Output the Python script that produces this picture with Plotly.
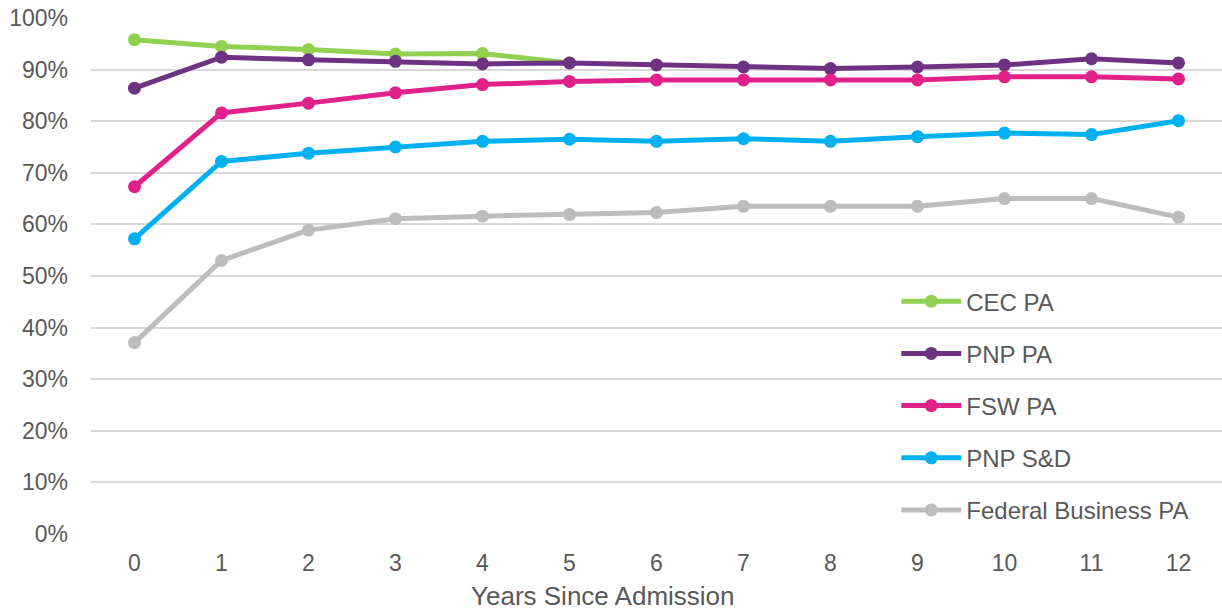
import plotly.graph_objects as go

years = list(range(13))
year_labels = [str(y) for y in years]

cec_pa = [0.958, 0.945, 0.939, 0.930, 0.931, 0.913]
pnp_pa = [0.864, 0.924, 0.919, 0.916, 0.911, 0.913, 0.909, 0.905, 0.902, 0.905, 0.909, 0.921, 0.913]
fsw_pa = [0.673, 0.816, 0.835, 0.855, 0.871, 0.877, 0.880, 0.880, 0.880, 0.880, 0.886, 0.886, 0.882]
pnp_sd = [0.572, 0.722, 0.738, 0.750, 0.761, 0.765, 0.761, 0.766, 0.761, 0.770, 0.777, 0.774, 0.801]
fed_business_pa = [0.371, 0.530, 0.589, 0.611, 0.616, 0.619, 0.623, 0.635, 0.635, 0.635, 0.650, 0.650, 0.614]

series = [
    ("CEC PA", cec_pa, "#92D050"),
    ("PNP PA", pnp_pa, "#6E3282"),
    ("FSW PA", fsw_pa, "#E0218A"),
    ("PNP S&D", pnp_sd, "#00B0F0"),
    ("Federal Business PA", fed_business_pa, "#BDBDBD"),
]

x_title = "Years Since Admission"

text_color = "#595959"
font_family = "Liberation Sans, Arial, sans-serif"

fig = go.Figure()
for name, values, color in series:
    fig.add_trace(go.Scatter(
        x=years[:len(values)],
        y=values,
        name=name,
        legendgroup=name,
        mode="lines+markers",
        line=dict(color=color, width=5),
        marker=dict(color=color, size=13),
    ))

# axis title sits slightly left of the plot-area centre
fig.add_annotation(
    text=x_title,
    xref="paper", yref="paper",
    x=0.4527, y=-0.121,
    xanchor="center", yanchor="middle",
    showarrow=False,
    font=dict(size=26, color=text_color, family=font_family),
)

fig.update_layout(
    width=1222,
    height=614,
    margin=dict(l=91, r=0, t=18, b=80),
    paper_bgcolor="white",
    plot_bgcolor="white",
    font=dict(family=font_family, size=23, color=text_color),
    showlegend=True,
    legend=dict(
        x=0.712, y=0.494, xanchor="left", yanchor="top",
        bgcolor="rgba(0,0,0,0)",
        tracegroupgap=18,
        itemwidth=60,
        font=dict(size=24, color=text_color),
    ),
    xaxis=dict(
        range=[-0.5, 12.5],
        tickmode="array",
        tickvals=years,
        ticktext=year_labels,
        showgrid=False,
        zeroline=False,
        showline=False,
        ticks="",
        ticklabelstandoff=13,
        tickfont=dict(size=23),
    ),
    yaxis=dict(
        range=[0, 1],
        tickmode="array",
        tickvals=[i / 10 for i in range(11)],
        tickformat=".0%",
        showgrid=True,
        gridcolor="#D9D9D9",
        gridwidth=1.5,
        zeroline=False,
        showline=False,
        ticks="",
        ticklabelstandoff=22,
        tickfont=dict(size=23),
    ),
)

fig.write_html("out.html")
